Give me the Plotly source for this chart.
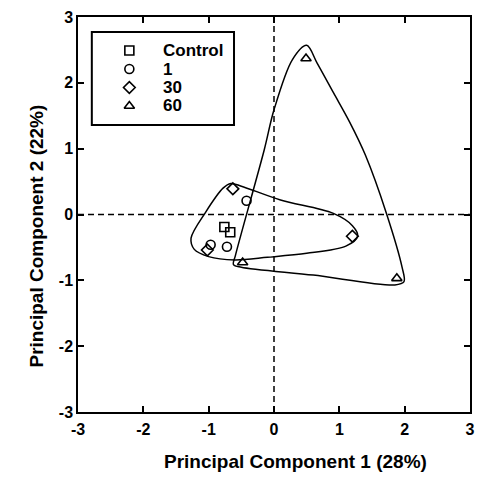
import plotly.graph_objects as go

# ---- data ----
groups = ["Control", "1", "30", "60"]
symbols = ["square-open", "circle-open", "diamond-open", "triangle-up-open"]
pc1 = {
    "Control": [-0.76, -0.67],
    "1": [-0.42, -0.97, -0.72],
    "30": [-0.63, -1.02, 1.20],
    "60": [-0.48, 1.88, 0.49],
}
pc2 = {
    "Control": [-0.19, -0.27],
    "1": [0.21, -0.46, -0.49],
    "30": [0.39, -0.54, -0.33],
    "60": [-0.73, -0.97, 2.37],
}
# hull outlines
hull1_x = [0.10, 0.90, 1.20, 1.28, 1.10, 0.50, -0.10, -0.60, -1.00, -1.22, -1.27, -1.05, -0.78, -0.66, -0.50, 0.10]
hull1_y = [0.22, 0.02, -0.17, -0.33, -0.48, -0.59, -0.65, -0.69, -0.64, -0.53, -0.36, 0.03, 0.40, 0.47, 0.43, 0.22]
hull2_x = [0.60, -0.50, -0.62, -0.59, -0.15, 0.00, 0.28, 0.50, 0.66, 0.91, 1.16, 1.40, 1.72, 1.96, 1.99, 1.85, 0.60]
hull2_y = [-0.92, -0.80, -0.76, -0.62, 0.98, 1.59, 2.35, 2.57, 2.30, 1.85, 1.40, 0.90, 0.02, -0.80, -1.02, -1.07, -0.92]

x_ticks = [-3, -2, -1, 0, 1, 2, 3]
y_ticks = [-3, -2, -1, 0, 1, 2, 3]
x_ticktext = ["-3", "-2", "-1", "0", "1", "2", "3"]
y_ticktext = ["-3", "-2", "-1", "0", "1", "2", "3"]
x_title = "Principal Component 1 (28%)"
y_title = "Principal Component 2 (22%)"

FONT = "Liberation Sans, Arial, Helvetica, sans-serif"
W, H = 482, 477
ML, MR, MT, MB = 78, 7, 17, 65
PW, PH = W - ML - MR, H - MT - MB


def px_x(p):  # pixel -> paper x
    return (p - ML) / PW


def px_y(p):  # pixel -> paper y
    return (H - MB - p) / PH


fig = go.Figure()

for hx, hy in [(hull1_x, hull1_y), (hull2_x, hull2_y)]:
    fig.add_trace(go.Scatter(x=hx, y=hy, mode="lines",
                             line=dict(color="black", width=1.5, shape="spline", smoothing=0.9),
                             showlegend=False, hoverinfo="skip"))

for g, s in zip(groups, symbols):
    fig.add_trace(go.Scatter(x=pc1[g], y=pc2[g], mode="markers", name=g,
                             showlegend=False,
                             marker=dict(symbol=s, size=9, color="black",
                                         line=dict(color="black", width=1.6))))

fig.add_hline(y=0, line=dict(color="black", width=1.5, dash="6px,4px"))
fig.add_vline(x=0, line=dict(color="black", width=1.5, dash="6px,4px"))

# ---- legend (drawn as a box with symbols on an overlay axis in paper units) ----
leg_box = (92, 32, 236, 125)  # left, top, right, bottom in pixels
leg_sym_x = 130
leg_text_x = 162
leg_rows = [50.5, 69, 87.5, 106]
fig.add_shape(type="rect", xref="paper", yref="paper",
              x0=px_x(leg_box[0]), x1=px_x(leg_box[2]),
              y0=px_y(leg_box[3]), y1=px_y(leg_box[1]),
              line=dict(color="black", width=2), fillcolor="rgba(0,0,0,0)", layer="above")
fig.add_trace(go.Scatter(
    x=[px_x(leg_sym_x)] * len(groups), y=[px_y(r) for r in leg_rows],
    xaxis="x2", yaxis="y2", mode="markers", showlegend=False, hoverinfo="skip",
    marker=dict(symbol=symbols, size=9, color="black", line=dict(color="black", width=1.6))))
for g, r in zip(groups, leg_rows):
    fig.add_annotation(xref="paper", yref="paper", x=px_x(leg_text_x), y=px_y(r),
                       text=g, showarrow=False, xanchor="left", yanchor="middle",
                       font=dict(family=FONT, size=17, color="black", weight="bold"))

# ---- axis titles ----
fig.add_annotation(xref="paper", yref="paper", x=px_x(298), y=px_y(461),
                   text=x_title, showarrow=False, xanchor="center", yanchor="middle",
                   font=dict(family=FONT, size=19, color="black", weight="bold"))
fig.add_annotation(xref="paper", yref="paper", x=px_x(35), y=px_y(236),
                   text=y_title, showarrow=False, xanchor="center", yanchor="middle",
                   textangle=-90,
                   font=dict(family=FONT, size=19, color="black", weight="bold"))

axis_common = dict(
    showgrid=False, zeroline=False, showline=True, linecolor="black", linewidth=1.5,
    mirror="ticks", ticks="inside", ticklen=6, tickwidth=1.5, tickcolor="black",
    tickfont=dict(family=FONT, size=16, color="black", weight="bold"),
)

fig.update_layout(
    width=W, height=H,
    margin=dict(l=ML, r=MR, t=MT, b=MB),
    paper_bgcolor="white", plot_bgcolor="white",
    xaxis=dict(range=[-3, 3], tickvals=x_ticks, ticktext=x_ticktext,
               ticklabelstandoff=2, **axis_common),
    yaxis=dict(range=[-3, 3], tickvals=y_ticks, ticktext=y_ticktext, **axis_common),
    xaxis2=dict(overlaying="x", range=[0, 1], visible=False, fixedrange=True),
    yaxis2=dict(overlaying="y", range=[0, 1], visible=False, fixedrange=True),
    showlegend=False,
)

fig.write_html("out.html")
